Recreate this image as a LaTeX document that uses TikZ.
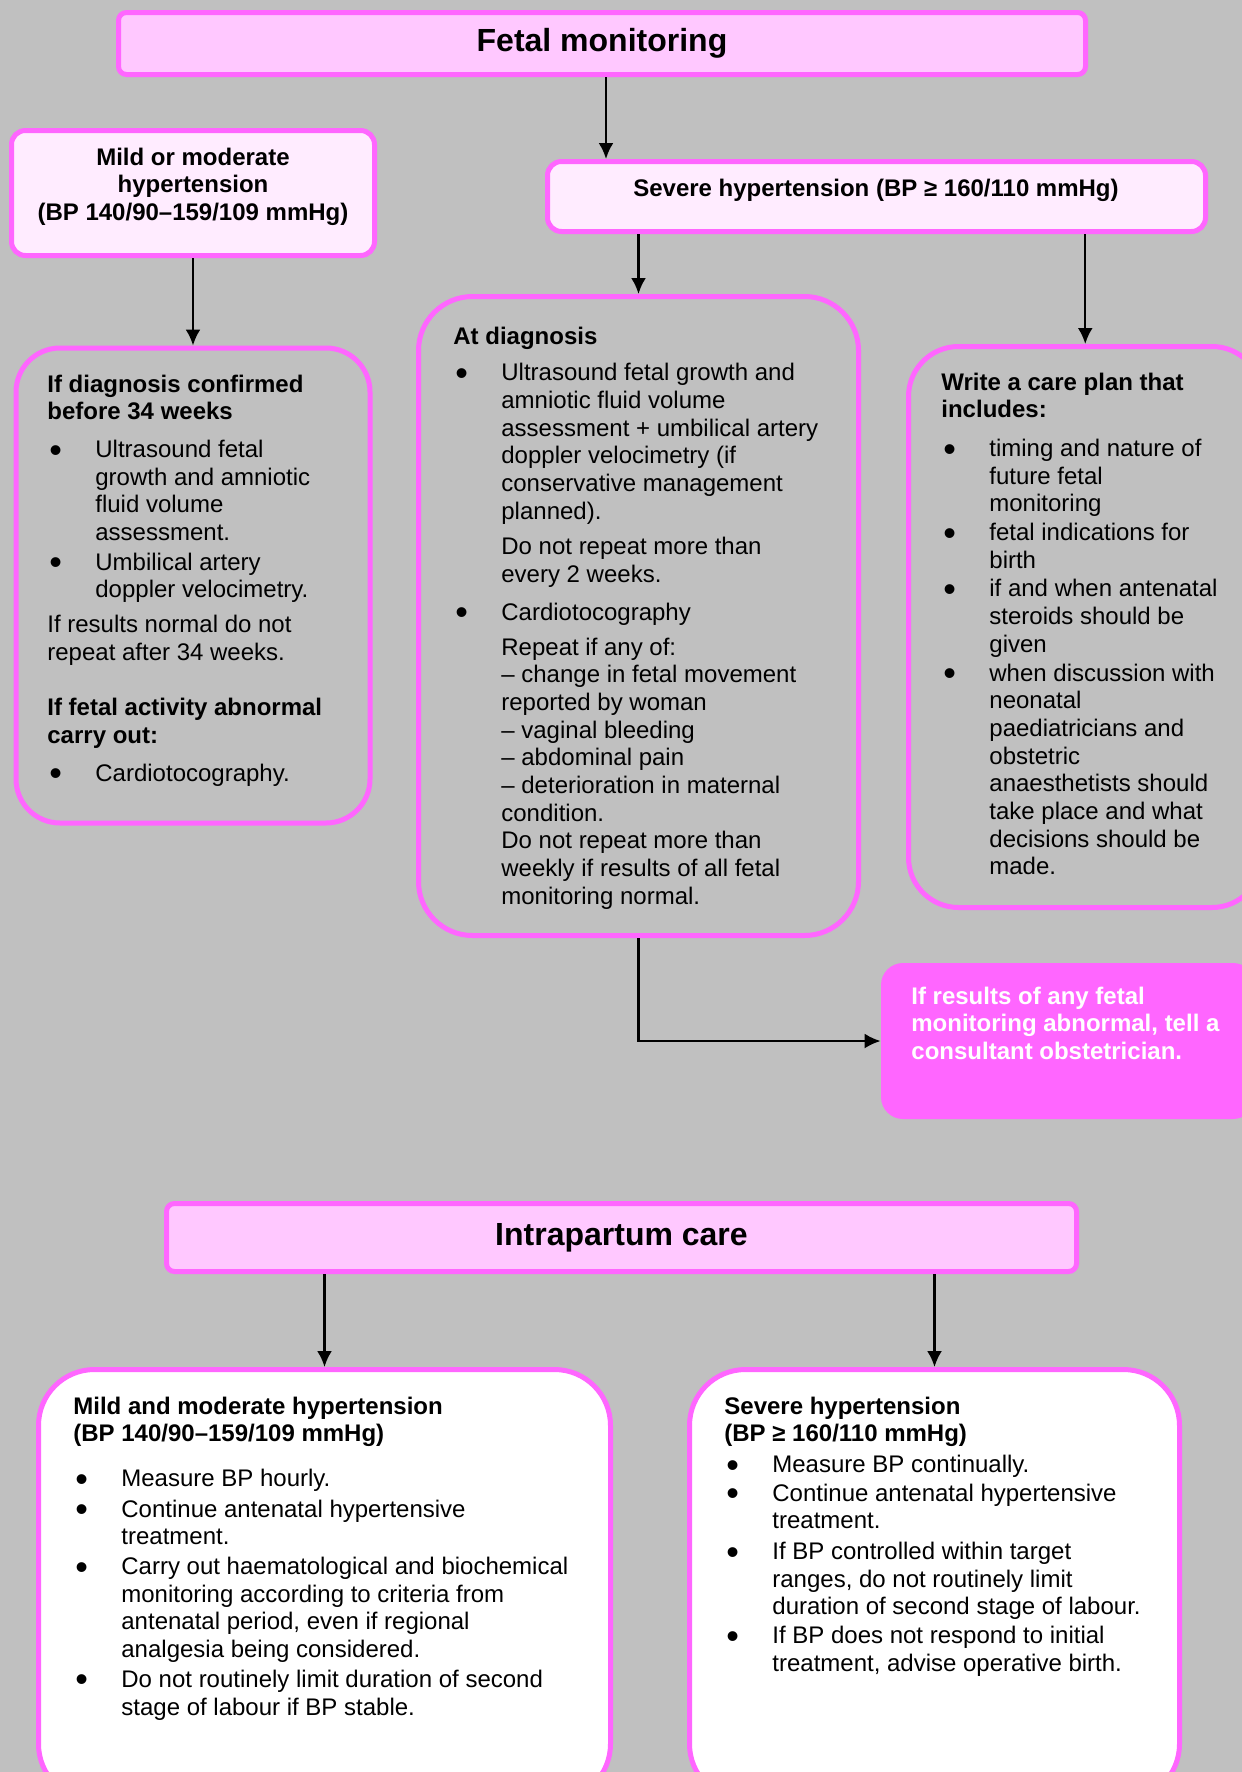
\documentclass[tikz,border=0pt]{standalone}
\usepackage{fontspec}
\setmainfont{Liberation Sans}
\usetikzlibrary{arrows.meta,fit}

\definecolor{bggrey}{RGB}{192,192,192}
\definecolor{pinkedge}{RGB}{255,102,255}
\definecolor{titlepink}{RGB}{255,200,255}
\definecolor{palepink}{RGB}{255,236,255}

\newcommand{\bodyfont}{\fontsize{12pt}{13.85pt}\selectfont}
\newcommand{\bul}{\makebox[24pt][l]{\hspace{1pt}\smash{\raisebox{-2.3pt}{\scalebox{1.5}{\textbullet}}}}}
\newcommand{\wide}[1]{\multicolumn{2}{@{}l@{}}{#1}}

\tikzset{
  titlebox/.style={draw=pinkedge, fill=titlepink, line width=2.5pt, rounded corners=4pt, inner sep=0pt},
  titletext/.style={inner sep=0pt, font=\fontsize{16pt}{19pt}\selectfont\bfseries},
  headbox/.style={draw=pinkedge, fill=palepink, line width=2.5pt, rounded corners=7pt, inner sep=0pt},
  listbox/.style={draw=pinkedge, line width=2.5pt, rounded corners=22pt, inner sep=0pt},
  alertbox/.style={fill=pinkedge, rounded corners=11pt, inner sep=0pt},
  bodytext/.style={anchor=base west, inner sep=0pt, font=\bodyfont},
  arr/.style={-{Latex[length=8pt,width=7.5pt]}, line width=1.2pt},
}

\begin{document}
\begin{tikzpicture}[x=0.5pt,y=-0.5pt]
\useasboundingbox (0,0) rectangle (1242,1772);
\fill[bggrey] (0,0) rectangle (1242,1772);

% fetal monitoring
\node[titlebox, fit={(118.5,12.5) (1085.5,74.5)}] (fetal) {};
\node[titletext] (fetaltxt) at (fetal.center) {Fetal monitoring};
\node[headbox, fit={(11.5,130.5) (374.5,255.5)}] (mild) {};
\node[headbox, fit={(547.5,161.5) (1205.5,231.5)}] (severe) {};
\node[anchor=base, inner sep=0pt, font=\bodyfont\bfseries] (mildtxt) at (193,165)
  {\begin{tabular}[t]{@{}c@{}}Mild or moderate\\ hypertension\\ (BP 140/90–159/109 mmHg)\end{tabular}};
\node[anchor=base, inner sep=0pt, font=\bodyfont\bfseries] (severetxt) at (876,196)
  {Severe hypertension (BP ≥ 160/110 mmHg)};

\node[listbox, fit={(16,348) (370,823)}] (confirmed) {};
\node[listbox, rounded corners=27pt, fit={(418.5,296.5) (858.5,935.5)}] (atdiag) {};
\node[listbox, rounded corners=25pt, fit={(908.5,346.5) (1262,907.5)}] (plan) {};
\node[alertbox, fit={(881,963) (1255,1119)}] (alert) {};

\node[bodytext] (confirmedtxt) at (47,392) {\begin{tabular}[t]{@{}l@{}l@{}}
\wide{\bfseries If diagnosis confirmed}\\
\wide{\bfseries before 34 weeks}\\[5pt]
\bul & Ultrasound fetal\\
 & growth and amniotic\\
 & fluid volume\\
 & assessment.\\[1pt]
\bul & Umbilical artery\\
 & doppler velocimetry.\\[3.5pt]
\wide{If results normal do not}\\
\wide{repeat after 34 weeks.}\\[13.85pt]
\wide{\bfseries If fetal activity abnormal}\\
\wide{\bfseries carry out:}\\[5pt]
\bul & Cardiotocography.
\end{tabular}};

\node[bodytext] (atdiagtxt) at (453,344) {\begin{tabular}[t]{@{}l@{}l@{}}
\wide{\bfseries At diagnosis}\\[4.5pt]
\bul & Ultrasound fetal growth and\\
 & amniotic fluid volume\\
 & assessment + umbilical artery\\
 & doppler velocimetry (if\\
 & conservative management\\
 & planned).\\[4pt]
 & Do not repeat more than\\
 & every 2 weeks.\\[5pt]
\bul & Cardiotocography\\[3.5pt]
 & Repeat if any of:\\
 & – change in fetal movement\\
 & reported by woman\\
 & – vaginal bleeding\\
 & – abdominal pain\\
 & – deterioration in maternal\\
 & condition.\\
 & Do not repeat more than\\
 & weekly if results of all fetal\\
 & monitoring normal.
\end{tabular}};

\node[bodytext] (plantxt) at (941,390) {\begin{tabular}[t]{@{}l@{}l@{}}
\wide{\bfseries Write a care plan that}\\
\wide{\bfseries includes:}\\[5.5pt]
\bul & timing and nature of\\
 & future fetal\\
 & monitoring\\[0.5pt]
\bul & fetal indications for\\
 & birth\\[0.5pt]
\bul & if and when antenatal\\
 & steroids should be\\
 & given\\[0.5pt]
\bul & when discussion with\\
 & neonatal\\
 & paediatricians and\\
 & obstetric\\
 & anaesthetists should\\
 & take place and what\\
 & decisions should be\\
 & made.
\end{tabular}};

\node[bodytext, text=white, font=\bodyfont\bfseries] (alerttxt) at (911,1004)
  {\begin{tabular}[t]{@{}l@{}}If results of any fetal\\ monitoring abnormal, tell a\\ consultant obstetrician.\end{tabular}};

% intrapartum care
\node[titlebox, fit={(166.5,1203.5) (1076.5,1271.5)}] (intra) {};
\node[titletext] (intratxt) at (intra.center) {Intrapartum care};
\node[listbox, fill=white, rounded corners=28pt, fit={(38.5,1369.5) (610.5,1800)}] (mildlab) {};
\node[listbox, fill=white, rounded corners=28pt, fit={(689.5,1369.5) (1179.5,1800)}] (sevlab) {};

\node[bodytext] (mildlabtxt) at (73,1414) {\begin{tabular}[t]{@{}l@{}l@{}}
\wide{\bfseries Mild and moderate hypertension}\\
\wide{\bfseries (BP 140/90–159/109 mmHg)}\\[8.5pt]
\bul & Measure BP hourly.\\[1.5pt]
\bul & Continue antenatal hypertensive\\
 & treatment.\\[1pt]
\bul & Carry out haematological and biochemical\\
 & monitoring according to criteria from\\
 & antenatal period, even if regional\\
 & analgesia being considered.\\[1pt]
\bul & Do not routinely limit duration of second\\
 & stage of labour if BP stable.
\end{tabular}};

\node[bodytext] (sevlabtxt) at (724,1414) {\begin{tabular}[t]{@{}l@{}l@{}}
\wide{\bfseries Severe hypertension}\\
\wide{\bfseries (BP ≥ 160/110 mmHg)}\\[1.5pt]
\bul & Measure BP continually.\\[0.5pt]
\bul & Continue antenatal hypertensive\\
 & treatment.\\[1.5pt]
\bul & If BP controlled within target\\
 & ranges, do not routinely limit\\
 & duration of second stage of labour.\\[0.5pt]
\bul & If BP does not respond to initial\\
 & treatment, advise operative birth.
\end{tabular}};

\draw[arr] ([xshift=2pt]fetal.south) -- ([xshift=2pt]fetal.south |- severe.north);
\draw[arr] (mild.south) -- (confirmed.north);
\draw[arr] (severe.south -| atdiag.north) -- (atdiag.north);
\draw[arr] (severe.south -| plan.north) -- (plan.north);
\draw[arr] (atdiag.south) |- (alert.west);
\draw[arr] (intra.south -| mildlab.north) -- (mildlab.north);
\draw[arr] (intra.south -| sevlab.north) -- (sevlab.north);
\end{tikzpicture}
\end{document}
